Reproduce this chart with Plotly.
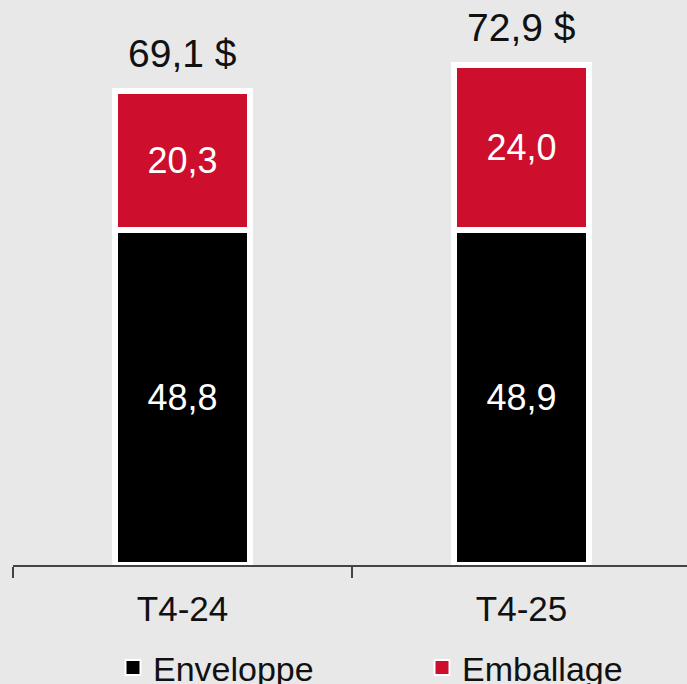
import plotly.graph_objects as go

categories = ["T4-24", "T4-25"]
enveloppe = [48.8, 48.9]
emballage = [20.3, 24.0]
series_names = ["Enveloppe", "Emballage"]
series_colors = ["#000000", "#CE0E2D"]

FONT = "Liberation Sans, Arial, sans-serif"
BG = "#E8E8E8"
INK = "#111111"


def fr(v):
    return f"{v:.1f}".replace(".", ",")


totals = [round(a + b, 1) for a, b in zip(enveloppe, emballage)]

fig = go.Figure()
for name, vals, col in zip(series_names, [enveloppe, emballage], series_colors):
    fig.add_trace(go.Bar(
        name=name,
        x=categories,
        y=vals,
        width=0.4,
        marker=dict(color=col, line=dict(color="white", width=6)),
        text=[fr(v) for v in vals],
        textposition="inside",
        insidetextanchor="middle",
        textangle=0,
        textfont=dict(color="white", size=36, family=FONT),
        hoverinfo="skip",
        showlegend=False,
    ))

# legend keys: square swatches with a thin white rim
for name, col in zip(series_names, series_colors):
    fig.add_trace(go.Scatter(
        name=name, x=[None], y=[None], mode="markers",
        marker=dict(symbol="square", size=15, color=col, line=dict(color="white", width=2)),
        showlegend=True, hoverinfo="skip",
    ))

# totals above each stack
for cat, tot in zip(categories, totals):
    fig.add_annotation(
        x=cat, y=tot, text=f"{fr(tot)} $", showarrow=False,
        yanchor="bottom", yshift=14,
        font=dict(size=39, color=INK, family=FONT),
    )

fig.update_layout(
    width=687, height=684,
    barmode="stack",
    paper_bgcolor=BG, plot_bgcolor=BG,
    margin=dict(l=13, r=0, t=0, b=119, autoexpand=False),
    font=dict(family=FONT, size=34, color=INK),
    showlegend=True,
    legend=dict(
        orientation="h", x=(113 - 13) / 674, xanchor="left", y=-0.182, yanchor="middle",
        entrywidth=264, font=dict(size=34, color=INK, family=FONT),
        bgcolor="rgba(0,0,0,0)", traceorder="normal",
    ),
    xaxis=dict(
        type="category", range=[-0.5, 1.488],
        showline=True, linecolor="#444444", linewidth=1.5,
        ticks="outside", tickson="boundaries", ticklen=11,
        tickcolor="#444444", tickwidth=1.5, ticklabelstandoff=12,
        tickfont=dict(size=35, color=INK, family=FONT),
        showgrid=False, zeroline=False, fixedrange=True,
    ),
    yaxis=dict(range=[0, 82.4], visible=False, showgrid=False, zeroline=False, fixedrange=True),
)

fig.write_html("out.html")
